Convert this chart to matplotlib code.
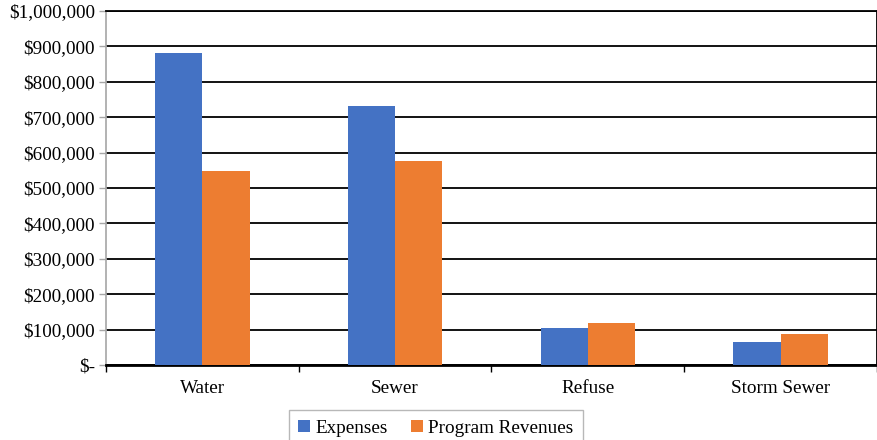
import matplotlib.pyplot as plt
import numpy as np
from matplotlib.ticker import FuncFormatter

plt.rcParams['font.family'] = ['Liberation Serif', 'DejaVu Serif']

categories = ["Water", "Sewer", "Refuse", "Storm Sewer"]
expenses = [881000, 732000, 104000, 65000]
program_revenues = [548000, 576000, 119000, 88000]
y_ticks = [0, 100000, 200000, 300000, 400000, 500000, 600000, 700000, 800000, 900000, 1000000]

blue = "#4472C4"
orange = "#ED7D31"


def money(v, pos=None):
    if v == 0:
        return "$-"
    return "${:,.0f}".format(v)


fig = plt.figure(figsize=(8.78, 4.40), dpi=100)
ax = fig.add_axes([106 / 878, 1 - 365 / 440, 771 / 878, 354 / 440])

x = np.arange(len(categories))
w = 0.245
ax.bar(x - w / 2, expenses, w, color=blue, label="Expenses", zorder=3)
ax.bar(x + w / 2, program_revenues, w, color=orange, label="Program Revenues", zorder=3)

ax.set_xlim(-0.5, len(categories) - 0.5)
ax.set_ylim(0, 1000000)
ax.set_yticks(y_ticks)
ax.yaxis.set_major_formatter(FuncFormatter(money))
ax.yaxis.grid(True, color="black", linewidth=1.3, zorder=0)
ax.set_axisbelow(True)

# category labels centered, tick marks on the boundaries
ax.set_xticks(x)
ax.set_xticklabels(categories)
ax.tick_params(axis="x", length=0, pad=11, labelsize=13.8)
ax.set_xticks(np.arange(-0.5, len(categories) + 0.5, 1), minor=True)
ax.tick_params(axis="x", which="minor", length=5, width=1, color="black", direction="out")
ax.tick_params(axis="y", length=5, width=1, color="#A6A6A6", labelsize=13.8, pad=3)

ax.spines["left"].set_color("#A6A6A6")
ax.spines["left"].set_linewidth(1.2)
ax.spines["bottom"].set_color("black")
ax.spines["bottom"].set_linewidth(2)
ax.spines["right"].set_color("black")
ax.spines["right"].set_linewidth(1.3)
ax.spines["top"].set_color("black")
ax.spines["top"].set_linewidth(1.3)

leg = fig.legend(loc="lower center", bbox_to_anchor=(436 / 878, -16 / 440), ncol=2,
                 frameon=True, fancybox=False, fontsize=13.8, handlelength=0.6,
                 handleheight=0.6, handletextpad=0.3, columnspacing=1.2,
                 borderpad=0.5)
leg.get_frame().set_edgecolor("#A6A6A6")
leg.get_frame().set_linewidth(1)

fig.savefig("out.png", dpi=100)
